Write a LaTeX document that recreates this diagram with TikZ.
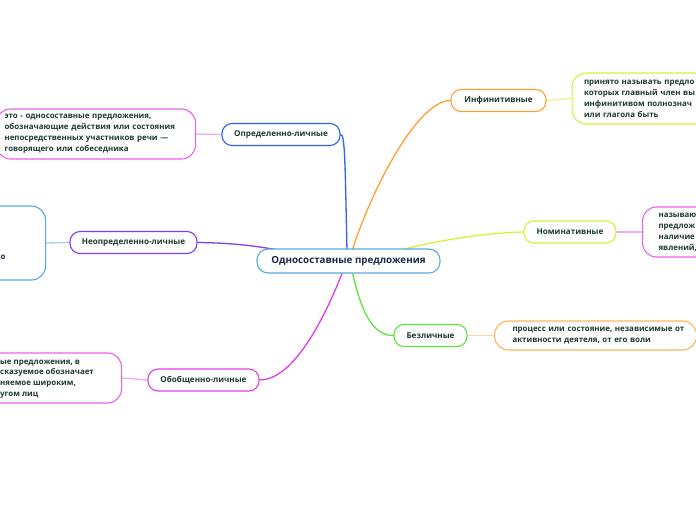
\documentclass[tikz,border=0pt]{standalone}
\usepackage{fontspec}
\setmainfont{Open Sans}
\usetikzlibrary{backgrounds}
\definecolor{txt}{HTML}{1E3A2E}
\definecolor{maintxt}{HTML}{1B2A49}
\definecolor{cmain}{HTML}{5AA8E0}
\definecolor{cblue}{HTML}{2E62F0}
\definecolor{cpurp}{HTML}{7F3FF0}
\definecolor{cmag}{HTML}{E23CE6}
\definecolor{corange}{HTML}{FFA033}
\definecolor{cyel}{HTML}{D7F03A}
\definecolor{cgreen}{HTML}{5CE53A}
\tikzset{
  branch/.style={draw, line width=1.1pt, rounded corners=10pt, fill=white, minimum height=22pt, inner xsep=0pt, text=txt, font=\fontsize{8.1}{11}\selectfont\bfseries},
  leaf/.style={draw, line width=1.1pt, rounded corners=14pt, fill=white, text=txt, align=left, inner ysep=0pt, font=\fontsize{7.9}{11}\selectfont\bfseries, anchor=west},
  conn/.style={line width=1.3pt},
  lconn/.style={line width=1.3pt},
}
\begin{document}
\begin{tikzpicture}[x=1pt,y=-1pt]
\useasboundingbox (0,0) rectangle (696,520);
\clip (0,0) rectangle (696,520);
\coordinate (mtb) at (347,251);
\coordinate (mto) at (352,251);
\coordinate (mty) at (397,251);
\coordinate (mtp) at (285,251);
\coordinate (mbg) at (352,271);
\coordinate (mbm) at (343,271);
% nodes
\node[branch, draw=cmain, line width=1.1pt, minimum width=183pt, minimum height=24pt, rounded corners=11pt, text=maintxt, font=\fontsize{9.8}{11}\selectfont\bfseries] (main) at (348.5,261) {Односоставные предложения};
\node[branch, draw=cblue, minimum width=118pt] (opr) at (281,134.5) {Определенно-личные};
\node[branch, draw=cpurp, minimum width=127pt] (neop) at (133.5,242.5) {Неопределенно-личные};
\node[branch, draw=cmag, minimum width=111pt] (obob) at (203.5,380) {Обобщенно-личные};
\node[branch, draw=corange, minimum width=95pt] (inf) at (498.5,100.5) {Инфинитивные};
\node[branch, draw=cyel, minimum width=92pt] (nom) at (570,232) {Номинативные};
\node[branch, draw=cgreen, minimum width=73pt] (bez) at (430.5,335.5) {Безличные};
% leaves
\node[leaf, draw=cmag!80, minimum width=199pt, minimum height=50pt, inner xsep=8pt, text width=183pt] (l1) at (-4,134) {это - односоставные предложения,\\обозначающие действия или состояния\\непосредственных участников речи —\\говорящего или собеседника};
\node[leaf, draw=cmain, minimum width=70pt, minimum height=74pt, inner xsep=0pt, text width=70pt] (l2) at (-25,243) {};
\node[font=\fontsize{7.9}{11}\selectfont\bfseries, text=maintxt, anchor=base west, inner sep=0pt] (l2t) at (0.5,259) {о};
\node[leaf, draw=cmag!80, minimum width=141pt, minimum height=50pt, inner xsep=0pt, text width=141pt] (l3) at (-20,378) {};
\node[font=\fontsize{7.9}{10.8}\selectfont\bfseries, text=txt, anchor=west, align=left, inner sep=0pt] (l3t) at (0,379) {ые предложения, в\\сказуемое обозначает\\няемое широким,\\угом лиц};
\node[leaf, draw=cyel, minimum width=200pt, minimum height=51pt, inner xsep=12pt, text width=176pt] (l4) at (571.5,98.5) {принято называть предло\\которых главный член вы\\инфинитивом полнознач\\или глагола быть};
\node[leaf, draw=cmag!80, minimum width=120pt, minimum height=50pt, inner xsep=16pt, text width=88pt] (l5) at (642,232) {называю\\предлож\\наличие\\явлений,};
\node[leaf, draw=corange!80, minimum width=202pt, minimum height=29pt, inner xsep=3pt, text width=196pt] (l6) at (494,335.5) {\hspace*{15pt}процесс или состояние, независимые от\\\hspace*{15pt}активности деятеля, от его воли};
% connectors
\begin{scope}[on background layer]
\draw[conn, cblue] (opr.east) .. controls (345,134) and (345,160) .. (mtb);
\draw[conn, corange] (mto) .. controls (375,180) and (420,100) .. (inf.west);
\draw[conn, cyel] (mty) .. controls (430,242) and (480,233) .. (nom.west);
\draw[conn, cgreen] (mbg) .. controls (360,305) and (370,336) .. (bez.west);
\draw[conn, cmag] (mbm) .. controls (320,330) and (290,380) .. (obob.east);
\draw[conn, cpurp] (neop.east) .. controls (240,243) and (260,247) .. (mtp);
\draw[lconn, cmag!45] (l1.east) -- (opr.west);
\draw[lconn, cmain!55] (l2.east) -- (neop.west);
\draw[lconn, cmag!45] (l3.east) -- (obob.west);
\draw[lconn, cyel!60] (inf.east) -- (l4.west);
\draw[lconn, cmag!45] (nom.east) -- (l5.west);
\draw[lconn, corange!45] (bez.east) -- (l6.west);
\end{scope}
\end{tikzpicture}
\end{document}
